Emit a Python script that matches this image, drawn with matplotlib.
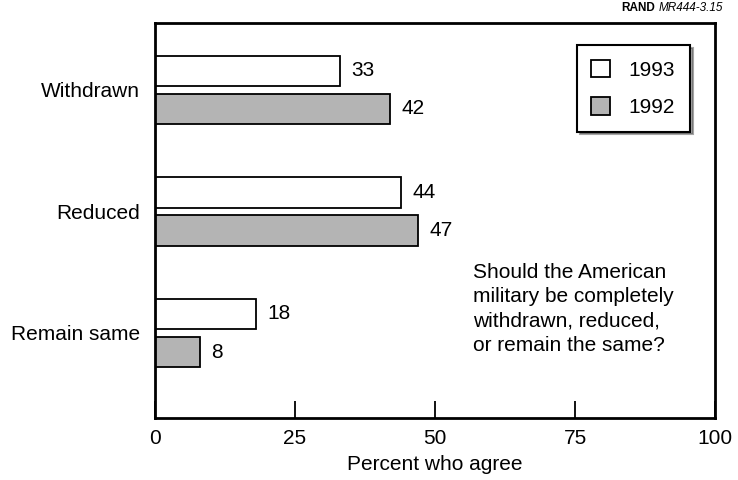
import matplotlib.pyplot as plt
import numpy as np

plt.rcParams['font.family'] = ['Liberation Sans', 'DejaVu Sans']

categories = ['Withdrawn', 'Reduced', 'Remain same']
values_1993 = [33, 44, 18]
values_1992 = [42, 47, 8]
years = ['1993', '1992']

fig = plt.figure(figsize=(7.38, 4.8), dpi=100)
ax = fig.add_axes([0.210, 0.129, 0.759, 0.823])

fs = 15
y = np.arange(len(categories))
h = 0.25
off = 0.157
b1 = ax.barh(y - off, values_1993, height=h, color='white', edgecolor='black',
             linewidth=1.3, label=years[0])
b2 = ax.barh(y + off, values_1992, height=h, color='#b4b4b4', edgecolor='black',
             linewidth=1.3, label=years[1])

for bars, vals in ((b1, values_1993), (b2, values_1992)):
    for bar, v in zip(bars, vals):
        ax.text(v + 2.0, bar.get_y() + bar.get_height() / 2, str(v),
                va='center', ha='left', fontsize=fs)

ax.set_xlim(0, 100)
ax.set_ylim(2.70, -0.55)
ax.set_yticks(y)
ax.set_yticklabels(categories, fontsize=fs)
ax.tick_params(axis='y', length=0, pad=11)
ax.set_xticks([0, 25, 50, 75, 100])
ax.tick_params(axis='x', direction='in', length=12, width=1.3, labelsize=fs, pad=8)
ax.set_xlabel('Percent who agree', fontsize=fs, labelpad=5)
for s in ax.spines.values():
    s.set_linewidth(2)

leg = ax.legend(loc='upper right', bbox_to_anchor=(0.955, 0.944), borderaxespad=0,
                fontsize=fs, frameon=True, fancybox=False, shadow=True,
                edgecolor='black', handlelength=0.9, handleheight=0.9,
                borderpad=0.7, labelspacing=0.85, handletextpad=0.9)
leg.get_frame().set_linewidth(1.5)

ax.text(56.8, 1.80, 'Should the American\nmilitary be completely\nwithdrawn, reduced,\nor remain the same?',
        fontsize=fs, ha='left', va='center', linespacing=1.36)

fig.text(0.888, 0.983, 'RAND', fontsize=8.5, fontweight='bold', ha='right', va='center')
fig.text(0.893, 0.983, 'MR444-3.15', fontsize=8.5, style='italic', ha='left', va='center')

fig.savefig('out.png', dpi=100)
